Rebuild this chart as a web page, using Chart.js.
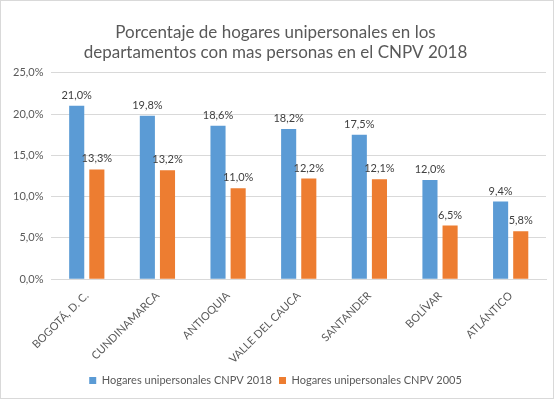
<!DOCTYPE html>
<html><head><meta charset="utf-8">
<script src="https://cdn.jsdelivr.net/npm/chart.js@4"></script>
<style>
html,body{margin:0;padding:0;background:#fff;}
#wrap{position:absolute;left:0;top:0;width:552px;height:397px;border:1px solid #d9d9d9;}
</style></head><body>
<div id="wrap"><canvas id="c" width="552" height="397"></canvas></div>
<script>
const categories = ["BOGOTÁ, D. C.", "CUNDINAMARCA", "ANTIOQUIA", "VALLE DEL CAUCA", "SANTANDER", "BOLÍVAR", "ATLÁNTICO"];
const series2018 = [21.0, 19.8, 18.6, 18.2, 17.5, 12.0, 9.4];
const series2005 = [13.3, 13.2, 11.0, 12.2, 12.1, 6.5, 5.8];
const seriesNames = ["Hogares unipersonales CNPV 2018", "Hogares unipersonales CNPV 2005"];
const titleLines = ["Porcentaje de hogares unipersonales en los", "departamentos con mas personas en el CNPV 2018"];

const fmt = v => v.toFixed(1).replace('.', ',') + '%';
const FONT = "Lato, 'Open Sans', sans-serif";

const labelPlugin = {
  id: 'barLabels',
  afterDatasetsDraw(chart) {
    const ctx = chart.ctx;
    ctx.save();
    ctx.font = "11px " + FONT;
    ctx.fillStyle = '#404040';
    ctx.textAlign = 'center';
    ctx.textBaseline = 'bottom';
    chart.data.datasets.forEach((ds, i) => {
      chart.getDatasetMeta(i).data.forEach((bar, j) => {
        ctx.fillText(fmt(ds.data[j]), bar.x, bar.y - 5);
      });
    });
    ctx.restore();
  }
};

new Chart(document.getElementById('c'), {
  type: 'bar',
  data: {
    labels: categories,
    datasets: [
      { label: seriesNames[0], data: series2018, backgroundColor: '#5b9bd5', categoryPercentage: 0.57, barPercentage: 0.75 },
      { label: seriesNames[1], data: series2005, backgroundColor: '#ed7d31', categoryPercentage: 0.57, barPercentage: 0.75 }
    ]
  },
  options: {
    responsive: false,
    animation: false,
    layout: { padding: { left: 4, right: 7, top: 21, bottom: 2 } },
    plugins: {
      title: { display: true, text: titleLines, color: '#595959', font: { family: FONT, size: 17, weight: 'normal' }, padding: { top: 0, bottom: 10 }, lineHeight: 1.5 },
      legend: { position: 'bottom', labels: { color: '#595959', font: { family: FONT, size: 11 }, boxWidth: 7, boxHeight: 7, padding: 7 } },
      tooltip: { enabled: false }
    },
    scales: {
      x: {
        grid: { display: false },
        border: { color: '#d9d9d9' },
        ticks: { color: '#595959', font: { family: FONT, size: 11 }, maxRotation: 45, minRotation: 45, padding: 2 }
      },
      y: {
        min: 0, max: 25,
        grid: { color: '#d9d9d9', drawTicks: false },
        border: { display: false },
        ticks: { stepSize: 5, color: '#595959', font: { family: FONT, size: 11 }, padding: 8, callback: v => fmt(v) }
      }
    }
  },
  plugins: [labelPlugin]
});
</script></body></html>
